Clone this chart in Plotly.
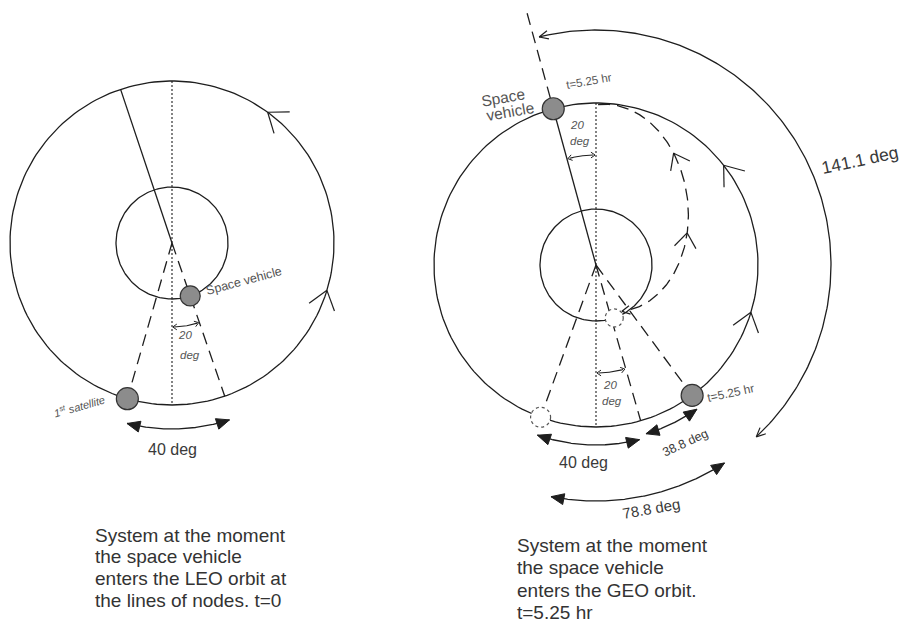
import numpy as np
import plotly.graph_objects as go

# ---------------- data ----------------
angle_values = [20, 40, 38.8, 78.8, 141.1]            # degrees written on the drawing
angle_labels = [f"{v:g} deg" for v in angle_values]
transfer_time_hr = 5.25
time_label = f"t={transfer_time_hr:g} hr"
caption_left = ["System at the moment", "the space vehicle",
                "enters the LEO orbit at", "the lines of nodes. t=0"]
caption_right = ["System at the moment", "the space vehicle",
                 "enters the GEO orbit.", time_label]
body_labels = ["Space vehicle", "1<sup>st</sup> satellite"]

# ---------------- geometry (drawing units = pixels) ----------------
W, H = 904, 624
LC = (172, 243)          # centre of left sketch
RC = (596, 265)          # centre of right sketch
R_LEO, R_GEO = 56, 162
INK = "#1e1e1e"
TXT = "#3a3a3a"
GREY = "#8c8c8c"
FONT = "Liberation Sans, Arial, sans-serif"

fig = go.Figure()


def P(c, r, phi):
    a = np.radians(phi)
    return c[0] + r * np.sin(a), c[1] + r * np.cos(a)


def tan_dir(phi, sign=1):
    a = np.radians(phi)
    return sign * np.cos(a), -sign * np.sin(a)


def line(xs, ys, dash=None, width=1.3, color=INK):
    fig.add_trace(go.Scatter(x=list(xs), y=list(ys), mode="lines",
                             line=dict(color=color, width=width, dash=dash),
                             hoverinfo="skip", showlegend=False))


def arc(c, r, p0, p1, **kw):
    ph = np.radians(np.linspace(p0, p1, 200))
    line(c[0] + r * np.sin(ph), c[1] + r * np.cos(ph), **kw)


def radial(c, r0, r1, phi, **kw):
    x0, y0 = P(c, r0, phi)
    x1, y1 = P(c, r1, phi)
    line([x0, x1], [y0, y1], **kw)


def rot(d, ang):
    a = np.radians(ang)
    return (d[0] * np.cos(a) - d[1] * np.sin(a), d[0] * np.sin(a) + d[1] * np.cos(a))


def norm(d):
    n = np.hypot(*d)
    return d[0] / n, d[1] / n


def filled_head(tip, d, L=13, w=5.5):
    d = norm(d)
    bx, by = tip[0] - L * d[0], tip[1] - L * d[1]
    nx, ny = -d[1], d[0]
    path = (f"M {tip[0]:.2f} {tip[1]:.2f} L {bx + w*nx:.2f} {by + w*ny:.2f} "
            f"L {bx - w*nx:.2f} {by - w*ny:.2f} Z")
    fig.add_shape(type="path", path=path, xref="x", yref="y",
                  fillcolor=INK, line=dict(color=INK, width=1))


def open_head(tip, d, L=9, ang=28, width=1.2):
    d = norm(d)
    back = (-d[0], -d[1])
    for s in (ang, -ang):
        b = rot(back, s)
        line([tip[0], tip[0] + L * b[0]], [tip[1], tip[1] + L * b[1]], width=width)


def dim_arc(c, r, p0, p1, filled=True, L=13, w=5.5):
    arc(c, r, p0, p1)
    sgn = 1 if p1 > p0 else -1
    t0, t1 = P(c, r, p0), P(c, r, p1)
    d1 = tan_dir(p1, sgn)
    d0 = tan_dir(p0, -sgn)
    if filled:
        filled_head(t1, d1, L, w)
        filled_head(t0, d0, L, w)
    else:
        open_head(t1, d1, L, 25)
        open_head(t0, d0, L, 25)


def orbit_chevron(c, r, phi, L=22, ang=37):
    tip = P(c, r, phi)
    open_head(tip, tan_dir(phi, 1), L, ang, width=1.2)


def disc(c, rad, fill=GREY, dash=None, lc="#333"):
    fig.add_shape(type="circle", xref="x", yref="y",
                  x0=c[0] - rad, x1=c[0] + rad, y0=c[1] - rad, y1=c[1] + rad,
                  fillcolor=fill, line=dict(color=lc, width=1.2, dash=dash))


def text(x, y, s, size, angle=0, italic=False, color=TXT, xanchor="center"):
    fig.add_annotation(x=x, y=y, text=s, showarrow=False, xref="x", yref="y",
                       textangle=angle, xanchor=xanchor, yanchor="middle",
                       font=dict(family=FONT, size=size, color=color,
                                 style="italic" if italic else "normal"))


DASH = "12px,7px"
DOT = "2px,2px"

# ================= LEFT SKETCH (t = 0) =================
arc(LC, R_GEO, 0, 360)
arc(LC, R_LEO, 0, 360)
line([LC[0], LC[0]], [LC[1] - R_GEO, LC[1] + R_GEO], dash=DOT, width=1.1)
radial(LC, 0, R_GEO, 198.5)                       # solid line to upper GEO
radial(LC, 0, R_GEO - 11, -16, dash=DASH)          # to 1st satellite
radial(LC, 0, R_GEO, 19, dash=DASH)                # through space vehicle
arc(LC, 84, 1.5, 17.5, width=1.1)                  # 20 deg arc
open_head(P(LC, 84, 0.5), tan_dir(0.5, -1), 5, 35, 1)
open_head(P(LC, 84, 18.5), tan_dir(18.5, 1), 5, 35, 1)
dim_arc(LC, 186, -14, 18)                          # 40 deg
orbit_chevron(LC, R_GEO, 143.8)
orbit_chevron(LC, R_GEO, 73)
disc(P(LC, R_LEO, 19), 10)                         # space vehicle
disc(P(LC, R_GEO, -16), 11)                        # 1st satellite

text(185, 335, "20", 11.5, italic=True, color="#555")
text(190, 355, "deg", 11.5, italic=True, color="#555")
text(172, 449, angle_labels[1], 16)
text(244, 281, body_labels[0], 12.5, angle=-15, color="#555")
text(79, 406, body_labels[1], 11, angle=-16, italic=True, color="#555")
for i, s in enumerate(caption_left):
    text(93, 535 + 21.7 * i, s, 19, xanchor="left", color="#333")

# ================= RIGHT SKETCH (t = 5.25 hr) =================
arc(RC, R_GEO, 0, 360)
arc(RC, R_LEO, 0, 360)
line([RC[0], RC[0]], [RC[1] - R_GEO, RC[1] + R_GEO], dash=DOT, width=1.1)
SV_PHI = 195.3
radial(RC, 0, R_GEO, SV_PHI)                       # solid line to space vehicle
radial(RC, R_GEO + 11, 268, SV_PHI, dash=DASH)     # dashed extension
radial(RC, 0, R_GEO - 10, -20, dash=DASH)          # to old 1st sat position
radial(RC, 0, R_GEO, 16, dash=DASH)
radial(RC, 0, R_GEO - 11, 36.4, dash=DASH)         # to 1st satellite now

# transfer half-ellipse (dashed)
EC = (610, 208)
ea, eb = 104, 78
u = norm((598 - 622, 104 - 312))
v = (-u[1], u[0]) if -u[1] > 0 else (u[1], -u[0])
t = np.linspace(0, np.pi, 200)
ex = EC[0] + ea * np.cos(t) * u[0] + eb * np.sin(t) * v[0]
ey = EC[1] + ea * np.cos(t) * u[1] + eb * np.sin(t) * v[1]
line(ex, ey, dash=DASH)


def ell_pt(tt):
    return (EC[0] + ea * np.cos(tt) * u[0] + eb * np.sin(tt) * v[0],
            EC[1] + ea * np.cos(tt) * u[1] + eb * np.sin(tt) * v[1])


def ell_motion(tt):   # motion from bottom to top
    return (ea * np.sin(tt) * u[0] - eb * np.cos(tt) * v[0],
            ea * np.sin(tt) * u[1] - eb * np.cos(tt) * v[1])


for tt in (1.1, 1.9):
    open_head(ell_pt(tt), ell_motion(tt), 18, 37, 1.2)
tend = np.pi * 0.985
dd = ell_motion(tend)
open_head(ell_pt(np.pi), (-dd[0], -dd[1]), 9, 28, 1.2)

# 20 deg arcs
arc(RC, 110, 181.5, 193.8, width=1.1)
open_head(P(RC, 110, 180.5), tan_dir(180.5, -1), 5, 35, 1)
open_head(P(RC, 110, 194.8), tan_dir(194.8, 1), 5, 35, 1)
arc(RC, 108, 1.5, 14.5, width=1.1)
open_head(P(RC, 108, 0.5), tan_dir(0.5, -1), 5, 35, 1)
open_head(P(RC, 108, 15.5), tan_dir(15.5, 1), 5, 35, 1)

dim_arc(RC, 180, -19, 14)                          # 40 deg
dim_arc(RC, 176, 16.5, 35)                         # 38.8 deg
dim_arc(RC, 236, -11, 33)                          # 78.8 deg
dim_arc(RC, 235, 43, 194, filled=False, L=10)      # 141.1 deg

orbit_chevron(RC, R_GEO, 128)
orbit_chevron(RC, R_GEO, 73)

disc(P(RC, R_GEO, -20), 10, fill="white", dash="dot", lc="#555")   # old 1st sat
disc(P(RC, R_LEO, 19), 9, fill="white", dash="dot", lc="#555")     # old space vehicle
disc(P(RC, R_GEO, SV_PHI), 11)                                     # space vehicle
disc(P(RC, R_GEO, 36.4), 11)                                       # 1st satellite

text(589, 81, time_label, 11.5, angle=-10, color="#555")
text(503, 97, "Space", 15.5, angle=-10, color="#555")
text(510, 111, "vehicle", 15.5, angle=-10, color="#555")
text(577, 125, "20", 11.5, italic=True, color="#555")
text(580, 141, "deg", 11.5, italic=True, color="#555")
text(860, 160, angle_labels[4], 17.5, angle=-12)
text(610, 385, "20", 11.5, italic=True, color="#555")
text(612, 401, "deg", 11.5, italic=True, color="#555")
text(731, 393, time_label, 12, angle=-12, color="#555")
text(583, 462, angle_labels[1], 16)
text(685, 443, angle_labels[2], 12.5, angle=-25)
text(651, 508, angle_labels[3], 15, angle=-10)
for i, s in enumerate(caption_right):
    text(515, 545 + 22.5 * i, s, 19, xanchor="left", color="#333")

fig.update_layout(
    width=W, height=H, margin=dict(l=0, r=0, t=0, b=0),
    paper_bgcolor="white", plot_bgcolor="white", showlegend=False,
    xaxis=dict(range=[0, W], visible=False, fixedrange=True),
    yaxis=dict(range=[H, 0], visible=False, fixedrange=True),
)
fig.write_html(
    "out.html",
    config={"displayModeBar": False},
    post_script="document.body.style.margin='0';"
                "document.documentElement.style.overflow='hidden';",
)
